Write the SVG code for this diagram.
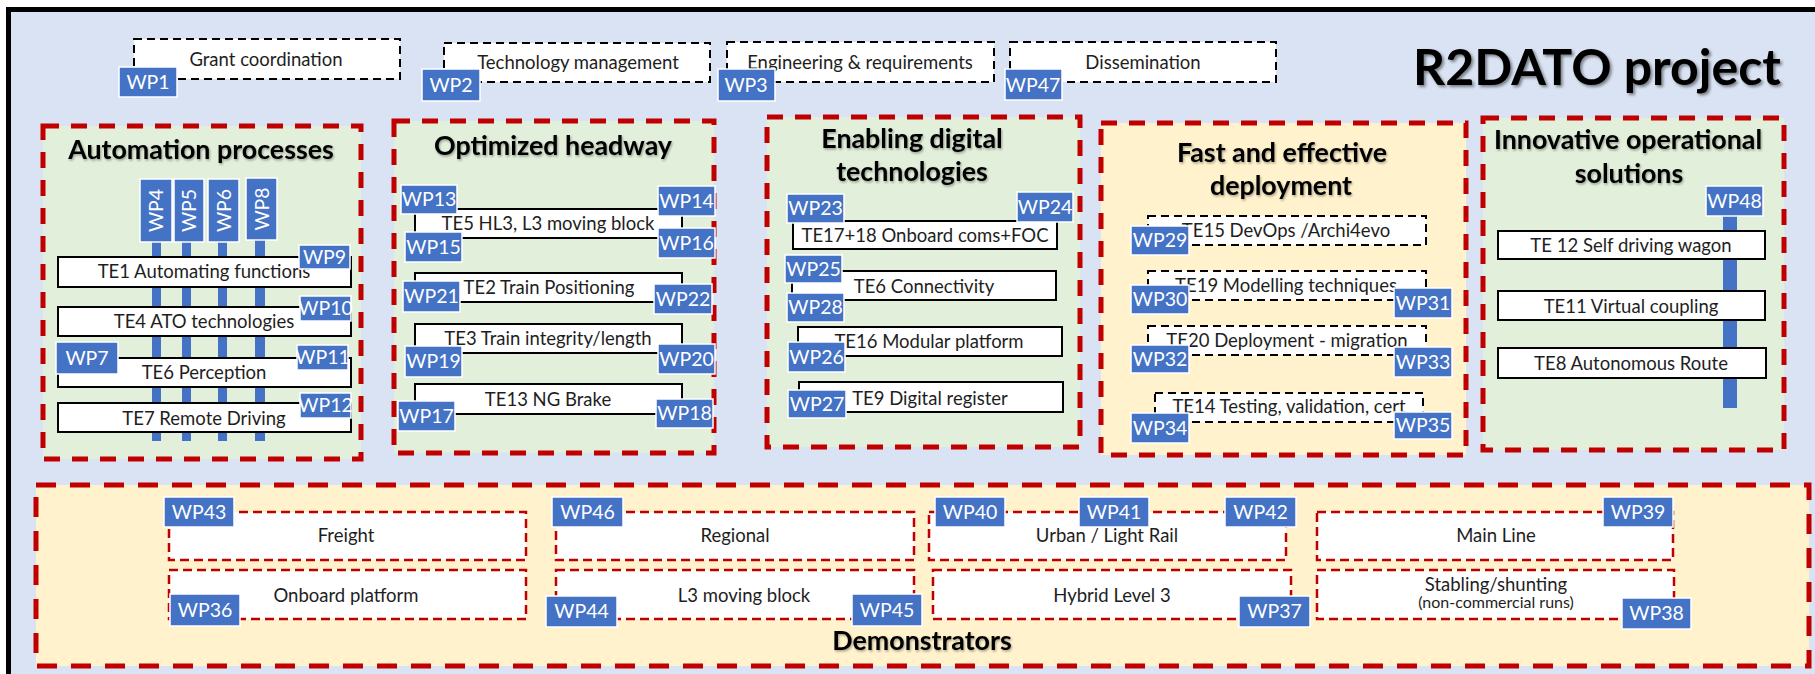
<svg xmlns="http://www.w3.org/2000/svg" width="1815" height="674" viewBox="0 0 1815 674">
<defs>
<filter id="sh" x="-10%" y="-30%" width="120%" height="160%"><feDropShadow dx="2" dy="2" stdDeviation="1.5" flood-color="#000" flood-opacity="0.45"/></filter>
<filter id="sh2" x="-10%" y="-30%" width="120%" height="160%"><feDropShadow dx="1" dy="1.5" stdDeviation="1" flood-color="#000" flood-opacity="0.35"/></filter>
<style>
text{font-family:Lato,"Liberation Sans",sans-serif}
.t{font-size:18.5px;fill:#1e1e1e;text-anchor:middle}
.ts{font-size:16px;fill:#1e1e1e;text-anchor:middle}
.ti{font-size:26.8px;font-weight:bold;fill:#000;text-anchor:middle;filter:url(#sh2)}
.big{font-size:50px;font-weight:bold;fill:#000;text-anchor:middle;filter:url(#sh)}
.wp rect{fill:#4472C4;stroke:#fff;stroke-width:1.5}
.wp text{font-size:19.5px;fill:#fff;text-anchor:middle}
.te{fill:#fff;stroke:#000;stroke-width:2}
.dk{fill:#fff;stroke:#000;stroke-width:2;stroke-dasharray:8 5}
.dr{fill:#fff;stroke:#C00000;stroke-width:2.5;stroke-dasharray:9 5}
.grp{stroke:#C00000;stroke-width:5;stroke-dasharray:16 12}
.gg{fill:#E2EFDA}
.gy{fill:#FFF2CC}
.bar{fill:#4472C4}
</style>
</defs>
<rect x="0" y="0" width="1815" height="674" fill="#fff"/>
<rect x="8.5" y="9.5" width="1900" height="800" fill="#DAE3F3" stroke="#000" stroke-width="5"/>

<text class="big" x="1597" y="85">R2DATO project</text>

<!-- group containers -->
<g id="g-automation"><rect class="grp gg" x="43" y="126" width="318" height="333"/><text class="ti" x="201" y="159">Automation processes</text></g>
<g id="g-headway"><rect class="grp gg" x="394" y="121" width="320" height="332"/><text class="ti" x="553" y="155">Optimized headway</text></g>
<g id="g-digital"><rect class="grp gg" x="767" y="117" width="313" height="330"/><text class="ti" x="912" y="148">Enabling digital</text><text class="ti" x="912" y="181">technologies</text></g>
<g id="g-deploy"><rect class="grp gy" x="1101" y="123" width="365" height="332"/><text class="ti" x="1282" y="162">Fast and effective</text><text class="ti" x="1281" y="195">deployment</text></g>
<g id="g-innov"><rect class="grp gg" x="1483" y="118" width="301" height="332"/><text class="ti" x="1628" y="149">Innovative operational</text><text class="ti" x="1629" y="183">solutions</text></g>
<g id="g-demo"><rect class="grp gy" x="36" y="485" width="1773" height="181" style="stroke-dasharray:20 14"/><text class="ti" x="922" y="650">Demonstrators</text></g>

<!-- connectors: WP bars -->
<g id="connectors">
<rect class="bar" x="152" y="240" width="9" height="201"/>
<rect class="bar" x="182" y="240" width="9" height="201"/>
<rect class="bar" x="218" y="240" width="9" height="201"/>
<rect class="bar" x="255" y="238" width="10" height="203"/>
<rect class="bar" x="1723" y="214" width="14" height="194"/>
</g>

<!-- top row -->
<g id="n-grant"><rect class="dk" x="134" y="39" width="266" height="40"/><text class="t" x="266" y="66">Grant coordination</text></g>
<g id="n-tech"><rect class="dk" x="444" y="43" width="266" height="39"/><text class="t" x="578" y="69">Technology management</text></g>
<g id="n-eng"><rect class="dk" x="727" y="42" width="267" height="40"/><text class="t" x="860" y="69">Engineering &amp; requirements</text></g>
<g id="n-diss"><rect class="dk" x="1010" y="42" width="266" height="40"/><text class="t" x="1143" y="69">Dissemination</text></g>

<!-- automation TE -->
<g id="n-te1"><rect class="te" x="58" y="257" width="293" height="30"/><text class="t" x="204" y="278">TE1 Automating functions</text></g>
<g id="n-te4"><rect class="te" x="58" y="307" width="293" height="29"/><text class="t" x="204" y="328">TE4 ATO technologies</text></g>
<g id="n-te6p"><rect class="te" x="58" y="358" width="293" height="29"/><text class="t" x="204" y="379">TE6 Perception</text></g>
<g id="n-te7"><rect class="te" x="58" y="403" width="293" height="29"/><text class="t" x="204" y="425">TE7 Remote Driving</text></g>

<!-- headway TE -->
<g id="n-te5"><rect class="te" x="415" y="209" width="267" height="29"/><text class="t" x="548" y="230">TE5 HL3, L3 moving block</text></g>
<g id="n-te2"><rect class="te" x="415" y="273" width="267" height="29"/><text class="t" x="549" y="294">TE2 Train Positioning</text></g>
<g id="n-te3"><rect class="te" x="415" y="324" width="267" height="29"/><text class="t" x="548" y="345">TE3 Train integrity/length</text></g>
<g id="n-te13"><rect class="te" x="415" y="384" width="267" height="30"/><text class="t" x="548" y="406">TE13 NG Brake</text></g>

<!-- digital TE -->
<g id="n-te17"><rect class="te" x="793" y="221" width="264" height="28"/><text class="t" x="925" y="242">TE17+18 Onboard coms+FOC</text></g>
<g id="n-te6c"><rect class="te" x="792" y="271" width="264" height="29"/><text class="t" x="924" y="293">TE6 Connectivity</text></g>
<g id="n-te16"><rect class="te" x="798" y="327" width="264" height="29"/><text class="t" x="929" y="348">TE16 Modular platform</text></g>
<g id="n-te9"><rect class="te" x="799" y="382" width="264" height="30"/><text class="t" x="930" y="405">TE9 Digital register</text></g>

<!-- deployment TE -->
<g id="n-te15"><rect class="dk" x="1148" y="216" width="278" height="29"/><text class="t" x="1286" y="237">TE15 DevOps /Archi4evo</text></g>
<g id="n-te19"><rect class="dk" x="1148" y="271" width="278" height="29"/><text class="t" x="1286" y="292">TE19 Modelling techniques</text></g>
<g id="n-te20"><rect class="dk" x="1148" y="326" width="278" height="29"/><text class="t" x="1287" y="347">TE20 Deployment - migration</text></g>
<g id="n-te14"><rect class="dk" x="1155" y="393" width="268" height="29"/><text class="t" x="1289" y="413">TE14 Testing, validation, cert</text></g>

<!-- innovative TE -->
<g id="n-te12"><rect class="te" x="1498" y="231" width="267" height="28"/><text class="t" x="1631" y="252">TE 12 Self driving wagon</text></g>
<g id="n-te11"><rect class="te" x="1498" y="291" width="267" height="29"/><text class="t" x="1631" y="313">TE11 Virtual coupling</text></g>
<g id="n-te8"><rect class="te" x="1498" y="348" width="268" height="30"/><text class="t" x="1631" y="370">TE8 Autonomous Route</text></g>

<!-- demonstrators -->
<g id="n-freight"><rect class="dr" x="169" y="512" width="357" height="48"/><text class="t" x="346" y="542">Freight</text></g>
<g id="n-onboard"><rect class="dr" x="169" y="570" width="357" height="49"/><text class="t" x="346" y="602">Onboard platform</text></g>
<g id="n-regional"><rect class="dr" x="556" y="512" width="358" height="48"/><text class="t" x="735" y="542">Regional</text></g>
<g id="n-l3"><rect class="dr" x="556" y="570" width="358" height="49"/><text class="t" x="744" y="602">L3 moving block</text></g>
<g id="n-urban"><rect class="dr" x="929" y="512" width="357" height="48"/><text class="t" x="1107" y="542">Urban / Light Rail</text></g>
<g id="n-hybrid"><rect class="dr" x="933" y="570" width="358" height="49"/><text class="t" x="1112" y="602">Hybrid Level 3</text></g>
<g id="n-main"><rect class="dr" x="1317" y="512" width="356" height="48"/><text class="t" x="1496" y="542">Main Line</text></g>
<g id="n-stab"><rect class="dr" x="1317" y="570" width="357" height="49"/><text class="t" x="1496" y="591">Stabling/shunting</text><text class="ts" x="1496" y="608">(non-commercial runs)</text></g>

<!-- WP labels -->
<g id="wp1" class="wp"><rect x="119" y="67" width="58" height="30"/><text x="148" y="89">WP1</text></g>
<g id="wp2" class="wp"><rect x="422" y="69" width="58" height="32"/><text x="451" y="92">WP2</text></g>
<g id="wp3" class="wp"><rect x="718" y="69" width="57" height="32"/><text x="746" y="92">WP3</text></g>
<g id="wp47" class="wp"><rect x="1005" y="69" width="57" height="31"/><text x="1033" y="92">WP47</text></g>

<g id="wp4" class="wp"><rect x="140" y="179" width="32" height="63"/><text x="156" y="217.5" transform="rotate(-90 156 210.5)">WP4</text></g>
<g id="wp5" class="wp"><rect x="174" y="179" width="30" height="63"/><text x="189" y="217.5" transform="rotate(-90 189 210.5)">WP5</text></g>
<g id="wp6" class="wp"><rect x="208" y="179" width="31" height="63"/><text x="223.5" y="217.5" transform="rotate(-90 223.5 210.5)">WP6</text></g>
<g id="wp8" class="wp"><rect x="246" y="178" width="31" height="62"/><text x="261.5" y="216" transform="rotate(-90 261.5 209)">WP8</text></g>
<g id="wp9" class="wp"><rect x="299" y="245" width="51" height="24"/><text x="324.5" y="264">WP9</text></g>
<g id="wp10" class="wp"><rect x="300" y="296" width="51" height="25"/><text x="325.5" y="315">WP10</text></g>
<g id="wp7" class="wp"><rect x="56" y="342" width="62" height="32"/><text x="87" y="365">WP7</text></g>
<g id="wp11" class="wp"><rect x="297" y="345" width="51" height="25"/><text x="322.5" y="364">WP11</text></g>
<g id="wp12" class="wp"><rect x="300" y="393" width="51" height="25"/><text x="325.5" y="412">WP12</text></g>

<g id="wp13" class="wp"><rect x="401" y="185" width="56" height="29"/><text x="429" y="206">WP13</text></g>
<g id="wp14" class="wp"><rect x="658" y="186" width="57" height="30"/><text x="686.5" y="208">WP14</text></g>
<g id="wp15" class="wp"><rect x="405" y="232" width="57" height="30"/><text x="433.5" y="254">WP15</text></g>
<g id="wp16" class="wp"><rect x="658" y="228" width="57" height="30"/><text x="686.5" y="250">WP16</text></g>
<g id="wp21" class="wp"><rect x="403" y="281" width="57" height="31"/><text x="431.5" y="303">WP21</text></g>
<g id="wp22" class="wp"><rect x="654" y="284" width="58" height="30"/><text x="683" y="306">WP22</text></g>
<g id="wp19" class="wp"><rect x="405" y="346" width="57" height="31"/><text x="433.5" y="368">WP19</text></g>
<g id="wp20" class="wp"><rect x="658" y="344" width="57" height="30"/><text x="686.5" y="366">WP20</text></g>
<g id="wp17" class="wp"><rect x="398" y="401" width="57" height="30"/><text x="426.5" y="423">WP17</text></g>
<g id="wp18" class="wp"><rect x="656" y="399" width="57" height="29"/><text x="684.5" y="420">WP18</text></g>

<g id="wp23" class="wp"><rect x="787" y="194" width="57" height="29"/><text x="815.5" y="215">WP23</text></g>
<g id="wp24" class="wp"><rect x="1017" y="192" width="56" height="30"/><text x="1045" y="214">WP24</text></g>
<g id="wp25" class="wp"><rect x="785" y="255" width="57" height="28"/><text x="813.5" y="276">WP25</text></g>
<g id="wp28" class="wp"><rect x="787" y="293" width="57" height="29"/><text x="815.5" y="314">WP28</text></g>
<g id="wp26" class="wp"><rect x="788" y="342" width="57" height="30"/><text x="816.5" y="364">WP26</text></g>
<g id="wp27" class="wp"><rect x="788" y="390" width="58" height="28"/><text x="817" y="411">WP27</text></g>

<g id="wp29" class="wp"><rect x="1131" y="226" width="58" height="29"/><text x="1160" y="247">WP29</text></g>
<g id="wp30" class="wp"><rect x="1131" y="285" width="58" height="29"/><text x="1160" y="306">WP30</text></g>
<g id="wp31" class="wp"><rect x="1394" y="288" width="58" height="30"/><text x="1423" y="310">WP31</text></g>
<g id="wp32" class="wp"><rect x="1131" y="345" width="58" height="28"/><text x="1160" y="366">WP32</text></g>
<g id="wp33" class="wp"><rect x="1394" y="347" width="58" height="30"/><text x="1423" y="369">WP33</text></g>
<g id="wp34" class="wp"><rect x="1131" y="413" width="58" height="30"/><text x="1160" y="435">WP34</text></g>
<g id="wp35" class="wp"><rect x="1394" y="412" width="58" height="27"/><text x="1423" y="432">WP35</text></g>

<g id="wp48" class="wp"><rect x="1706" y="186" width="57" height="30"/><text x="1734.5" y="208">WP48</text></g>

<g id="wp43" class="wp"><rect x="164" y="497" width="70" height="30"/><text x="199" y="519">WP43</text></g>
<g id="wp36" class="wp"><rect x="170" y="594" width="70" height="32"/><text x="205" y="617">WP36</text></g>
<g id="wp46" class="wp"><rect x="552" y="497" width="71" height="30"/><text x="587.5" y="519">WP46</text></g>
<g id="wp44" class="wp"><rect x="546" y="596" width="71" height="31"/><text x="581.5" y="618">WP44</text></g>
<g id="wp45" class="wp"><rect x="852" y="594" width="70" height="32"/><text x="887" y="617">WP45</text></g>
<g id="wp40" class="wp"><rect x="935" y="497" width="70" height="30"/><text x="970" y="519">WP40</text></g>
<g id="wp41" class="wp"><rect x="1079" y="497" width="70" height="30"/><text x="1114" y="519">WP41</text></g>
<g id="wp42" class="wp"><rect x="1225" y="497" width="71" height="30"/><text x="1260.5" y="519">WP42</text></g>
<g id="wp37" class="wp"><rect x="1239" y="596" width="71" height="31"/><text x="1274.5" y="618">WP37</text></g>
<g id="wp39" class="wp"><rect x="1603" y="497" width="70" height="30"/><text x="1638" y="519">WP39</text></g>
<g id="wp38" class="wp"><rect x="1622" y="598" width="69" height="31"/><text x="1656.5" y="620">WP38</text></g>
</svg>
